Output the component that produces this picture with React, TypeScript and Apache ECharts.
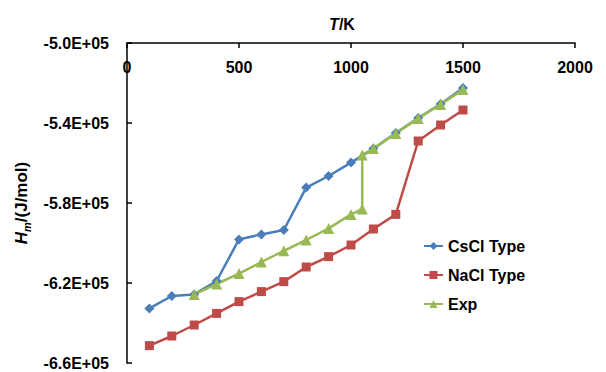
import React, { useEffect, useRef } from "react";
import * as echarts from "echarts";

// Temperature grid (K) shared by both computed structures
const temperatures = [100, 200, 300, 400, 500, 600, 700, 800, 900, 1000, 1100, 1200, 1300, 1400, 1500];

// Molar enthalpy H_m (J/mol) of the CsCl-type structure
const cscl = [-632700, -626500, -625700, -619000, -598200, -595700, -593500, -572300, -566500, -559800, -552800, -545000, -537500, -530500, -522500];

// Molar enthalpy H_m (J/mol) of the NaCl-type structure
const nacl = [-651300, -646500, -641000, -635200, -629300, -624300, -619300, -612000, -606800, -601000, -593000, -585700, -549000, -541000, -533500];

// Experimental enthalpy, with the jump at the transition temperature
const expTemperatures = [300, 400, 500, 600, 700, 800, 900, 1000, 1050, 1050, 1100, 1200, 1300, 1400, 1500];
const expValues = [-625700, -620500, -615300, -609500, -603900, -598500, -592700, -585700, -583000, -556000, -552800, -545200, -537700, -530700, -523300];

// Value-axis labels
const yTicks = [-660000, -620000, -580000, -540000, -500000];

const FONT = "'Liberation Sans', Arial, sans-serif";

const sci = (v: number) => {
  const [mant, exp] = v.toExponential(1).split("e");
  const n = parseInt(exp, 10);
  return `${mant}E${n < 0 ? "-" : "+"}${String(Math.abs(n)).padStart(2, "0")}`;
};

const pair = (xs: number[], ys: number[]) => xs.map((x, i) => [x, ys[i]]);

export default function App() {
  const ref = useRef<HTMLDivElement>(null);

  useEffect(() => {
    if (!ref.current) return;
    const chart = echarts.init(ref.current, null, { renderer: "svg" });
    const labelStyle = { color: "#000", fontFamily: FONT, fontWeight: "bold" as const, fontSize: 16 };

    chart.setOption({
      animation: false,
      backgroundColor: "#fff",
      grid: { left: 127, right: 31, top: 43, bottom: 9, containLabel: false },
      legend: {
        orient: "vertical",
        left: 423,
        top: 238,
        padding: 0,
        itemWidth: 19,
        itemHeight: 10,
        itemGap: 13,
        textStyle: { ...labelStyle },
        data: ["CsCl Type", "NaCl Type", "Exp"],
      },
      xAxis: {
        type: "value",
        position: "top",
        min: 0,
        max: 2000,
        interval: 500,
        name: "{i|T}{n|/K}",
        nameLocation: "middle",
        nameGap: 11,
        nameTextStyle: {
          padding: [0, 18, 0, 0],
          rich: {
            i: { ...labelStyle, fontStyle: "italic" },
            n: { ...labelStyle },
          },
        },
        axisLine: { show: true, onZero: false, lineStyle: { color: "#000", width: 1.5 } },
        axisTick: { show: true, inside: true, length: 5, lineStyle: { color: "#000", width: 1.5 } },
        axisLabel: { ...labelStyle, inside: true, margin: 16, formatter: (v: number) => String(v) },
        splitLine: { show: false },
      },
      yAxis: {
        type: "value",
        min: -660000,
        max: -500000,
        name: "{i|H}{s|m}{n|/(J/mol)}",
        nameLocation: "middle",
        nameGap: 88,
        nameTextStyle: {
          rich: {
            i: { ...labelStyle, fontSize: 17, fontStyle: "italic", verticalAlign: "bottom", padding: [0, 0, 3, 0] },
            s: { ...labelStyle, fontSize: 11, fontStyle: "italic", verticalAlign: "bottom" },
            n: { ...labelStyle, fontSize: 17, verticalAlign: "bottom", padding: [0, 0, 3, 0] },
          },
        },
        axisLine: { show: true, onZero: false, lineStyle: { color: "#000", width: 1.5 } },
        axisTick: { show: true, inside: true, length: 5, customValues: yTicks, lineStyle: { color: "#000", width: 1.5 } },
        axisLabel: { ...labelStyle, margin: 18, customValues: yTicks, formatter: (v: number) => sci(v) },
        splitLine: { show: false },
      },
      series: [
        {
          name: "CsCl Type",
          type: "line",
          data: pair(temperatures, cscl),
          symbol: "diamond",
          symbolSize: 10,
          color: "#4A7EBB",
          lineStyle: { width: 2.5 },
        },
        {
          name: "NaCl Type",
          type: "line",
          data: pair(temperatures, nacl),
          symbol: "rect",
          symbolSize: 9,
          color: "#BE4B48",
          lineStyle: { width: 2.5 },
        },
        {
          name: "Exp",
          type: "line",
          data: pair(expTemperatures, expValues),
          symbol: "triangle",
          symbolSize: 11,
          color: "#98B954",
          lineStyle: { width: 2.5 },
        },
      ],
    });

    return () => chart.dispose();
  }, []);

  return (
    <div
      ref={ref}
      style={{ position: "fixed", left: 0, top: 0, width: 606, height: 372, background: "#fff" }}
    />
  );
}
